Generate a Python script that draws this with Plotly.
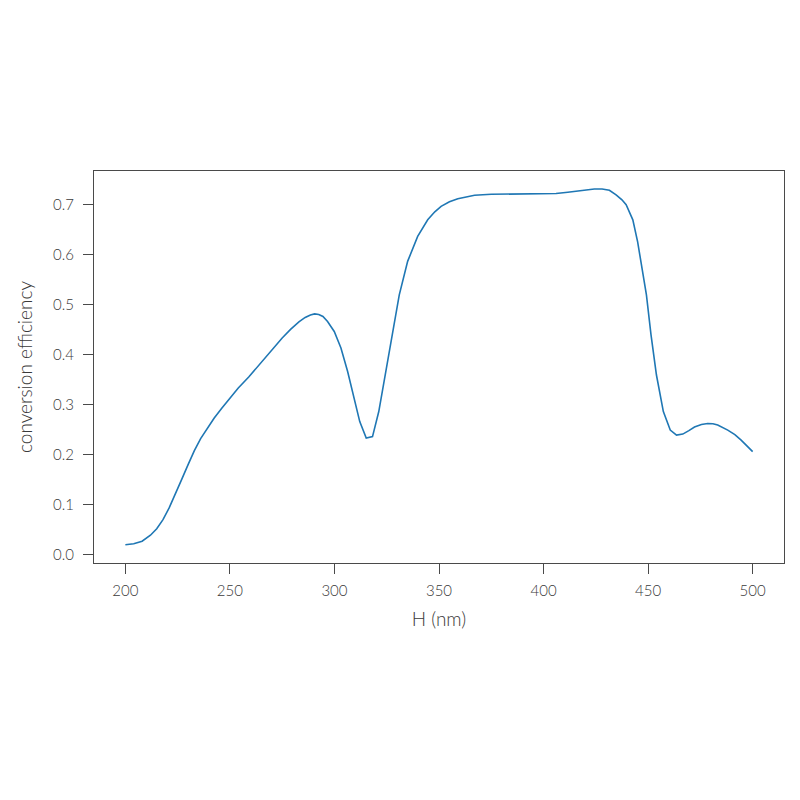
import plotly.graph_objects as go

wavelength_nm = [200, 204, 208, 212, 215, 218, 221, 224, 227, 230, 233, 236, 239, 242.5, 246,
                 249.7, 254, 259, 263, 267, 271, 275, 279, 283, 286, 288.5, 290.5, 292.5, 294.5,
                 296.7, 299.9, 303.1, 306.3, 309.5, 312.1, 315.2, 318.2, 321.2, 324.6, 327.8,
                 331, 335, 339.8, 344.6, 348, 351, 355, 359, 363, 367, 375, 383, 399, 406,
                 411.6, 418, 424.3, 428, 431.5, 434.7, 437.5, 439.5, 442.7, 445, 447.5, 449.2,
                 451.4, 454, 457.3, 460.6, 463.6, 466.6, 469.5, 472.2, 475.5, 478.5, 481,
                 483.3, 488.1, 491.5, 494.5, 497.5, 500]
efficiency = [0.020, 0.022, 0.027, 0.039, 0.052, 0.070, 0.094, 0.121, 0.151, 0.180, 0.208, 0.232,
              0.252, 0.273, 0.292, 0.312, 0.333, 0.355, 0.375, 0.395, 0.414, 0.433, 0.450, 0.465,
              0.474, 0.479, 0.481, 0.480, 0.476, 0.466, 0.446, 0.413, 0.366, 0.313, 0.266, 0.233,
              0.236, 0.286, 0.366, 0.446, 0.519, 0.586, 0.636, 0.669, 0.685, 0.696, 0.705, 0.711,
              0.715, 0.718, 0.720, 0.7206, 0.7206, 0.7215, 0.724, 0.728, 0.7306, 0.7305, 0.728,
              0.719, 0.709, 0.699, 0.669, 0.625, 0.566, 0.519, 0.439, 0.359, 0.286, 0.249, 0.239,
              0.241, 0.248, 0.255, 0.260, 0.262, 0.2615, 0.259, 0.249, 0.240, 0.229, 0.217, 0.206]

x_ticks = [200, 250, 300, 350, 400, 450, 500]
y_ticks = [0.0, 0.1, 0.2, 0.3, 0.4, 0.5, 0.6, 0.7]

font_family = "Lato"
axis_color = "#4a4a4a"
text_color = "#3a3a3a"

fig = go.Figure()
fig.add_trace(go.Scatter(x=wavelength_nm, y=efficiency, mode="lines",
                         line=dict(color="#1f77b4", width=1.6, shape="linear"),
                         showlegend=False))

axis_common = dict(showline=True, linecolor=axis_color, linewidth=1, mirror=True,
                   ticks="outside", ticklen=10, tickwidth=1, tickcolor=axis_color,
                   showgrid=False, zeroline=False,
                   tickfont=dict(family=font_family, size=15, color=text_color, weight=300))

fig.update_layout(
    width=800, height=800,
    margin=dict(l=86, r=24, t=163, b=245),
    paper_bgcolor="white", plot_bgcolor="white",
    font=dict(family=font_family, weight=300, color=text_color),
    xaxis=dict(range=[185, 515], tickvals=x_ticks, ticktext=[str(v) for v in x_ticks],
               ticklabelstandoff=4,
               title=dict(text="H (nm)", font=dict(family=font_family, size=19, color=text_color, weight=300),
                          standoff=14),
               **axis_common),
    yaxis=dict(range=[-0.0165, 0.7665], tickvals=y_ticks, ticktext=[f"{v:.1f}" for v in y_ticks],
               ticklabelstandoff=6,
               title=dict(text="conversion efficiency", font=dict(family=font_family, size=19, color=text_color, weight=300),
                          standoff=15),
               **axis_common),
)

fig.write_html("out.html")
